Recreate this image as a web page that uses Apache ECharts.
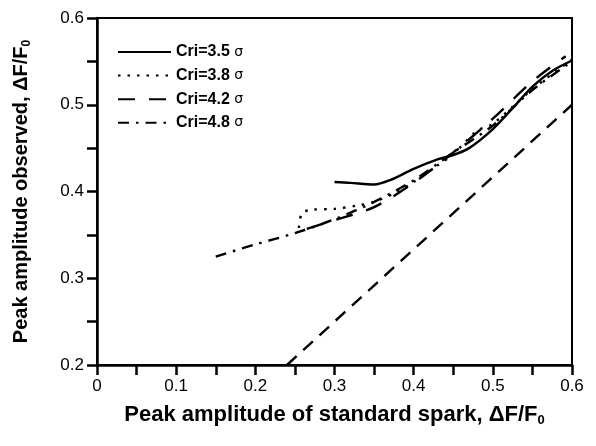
<!DOCTYPE html>
<html>
<head>
<meta charset="utf-8">
<script src="https://cdn.jsdelivr.net/npm/echarts@6/dist/echarts.min.js"></script>
<style>html,body{margin:0;padding:0;background:#fff}#c{width:596px;height:446px}</style>
</head>
<body>
<div id="c"></div>
<script>
var seriesNames = ['Cri=3.5', 'Cri=3.8', 'Cri=4.2', 'Cri=4.8'];
var cri35 = [[0.300,0.411],[0.32,0.410],[0.35,0.408],[0.37,0.413],[0.40,0.426],[0.43,0.437],[0.45,0.442],[0.47,0.450],[0.50,0.472],[0.525,0.496],[0.55,0.521],[0.575,0.539],[0.60,0.551]];
var cri38 = [[0.255,0.358],[0.259,0.375],[0.272,0.379],[0.30,0.380],[0.33,0.384],[0.35,0.388],[0.38,0.400],[0.40,0.411],[0.43,0.430],[0.45,0.443],[0.48,0.470],[0.50,0.478],[0.55,0.518],[0.60,0.552]];
var cri42 = [[0.265,0.357],[0.30,0.367],[0.35,0.382],[0.40,0.410],[0.45,0.445],[0.50,0.484],[0.55,0.527],[0.592,0.556]];
var cri48 = [[0.15,0.325],[0.20,0.339],[0.25,0.352],[0.30,0.368],[0.35,0.388],[0.40,0.413],[0.45,0.445],[0.50,0.476],[0.55,0.517],[0.60,0.550]];
var refLine = [[0.24,0.20],[0.60,0.50]];
var xTicks = {min:0, max:0.6, step:0.05};
var yTicks = {min:0.2, max:0.6, step:0.05};

var FONT = '"Liberation Sans", Arial, Helvetica, sans-serif';
var chart = echarts.init(document.getElementById('c'), null, {renderer:'canvas'});
function lbl(v){ var r = Math.round(v*100); if (r % 10 !== 0) return ''; return (r/100).toString(); }
function mk(name, data, type){
  return {name:name, type:'line', data:data, symbol:'none', smooth:0.3, silent:true,
    lineStyle:{color:'#000', width:2.4, type:type, cap:'butt'}, itemStyle:{color:'#000'}};
}
chart.setOption({
  animation:false,
  grid:{left:97, right:24, top:18, bottom:81, show:true, borderColor:'#000', borderWidth:2},
  legend:{
    orient:'vertical', left:117, top:44, padding:0, itemWidth:53, itemHeight:14, itemGap:7.6,
    data:seriesNames,
    itemStyle:{opacity:0},
    formatter:function(n){ return '{a|' + n + '} {b|σ}'; },
    textStyle:{color:'#000', fontFamily:FONT, fontSize:16, fontWeight:'bold', lineHeight:14,
      rich:{a:{fontFamily:FONT, fontSize:16, fontWeight:'bold', color:'#000', lineHeight:14},
            b:{fontFamily:'"DejaVu Sans", sans-serif', fontSize:14, fontWeight:'normal', color:'#000', lineHeight:14}}}
  },
  xAxis:{type:'value', min:xTicks.min, max:xTicks.max, interval:xTicks.step,
    name:'{t|Peak amplitude of standard spark, ΔF/F}{s|0}', nameLocation:'middle', nameGap:37,
    nameTextStyle:{rich:{t:{fontFamily:FONT, fontSize:22, fontWeight:'bold', color:'#000'},
                         s:{fontFamily:FONT, fontSize:13, fontWeight:'bold', color:'#000', padding:[12,0,0,0]}}},
    axisLine:{show:true, onZero:false, lineStyle:{color:'#000', width:2.5}},
    axisTick:{show:true, inside:false, length:10, lineStyle:{color:'#000', width:2.5}},
    axisLabel:{color:'#000', fontFamily:FONT, fontSize:17, margin:13, formatter:lbl, showMinLabel:true, showMaxLabel:true},
    splitLine:{show:false}},
  yAxis:{type:'value', min:yTicks.min, max:yTicks.max, interval:yTicks.step,
    name:'{t|Peak amplitude observed, ΔF/F}{s|0}', nameLocation:'middle', nameGap:64, nameRotate:90,
    nameTextStyle:{rich:{t:{fontFamily:FONT, fontSize:20, fontWeight:'bold', color:'#000'},
                         s:{fontFamily:FONT, fontSize:12, fontWeight:'bold', color:'#000', padding:[11,0,0,0]}}},
    axisLine:{show:true, onZero:false, lineStyle:{color:'#000', width:2.5}},
    axisTick:{show:true, inside:false, length:10, lineStyle:{color:'#000', width:2.5}},
    axisLabel:{color:'#000', fontFamily:FONT, fontSize:17, margin:13, formatter:lbl, showMinLabel:true, showMaxLabel:true},
    splitLine:{show:false}},
  series:[
    mk('Cri=3.5', cri35, 'solid'),
    mk('Cri=3.8', cri38, [2.5,7]),
    mk('Cri=4.2', cri42, [17,14]),
    mk('Cri=4.8', cri48, [11,7,2.5,7]),
    {name:'ref', type:'line', data:refLine, symbol:'none', silent:true,
      lineStyle:{color:'#000', width:2.4, type:[13,9]}}
  ]
});
</script>
</body>
</html>
